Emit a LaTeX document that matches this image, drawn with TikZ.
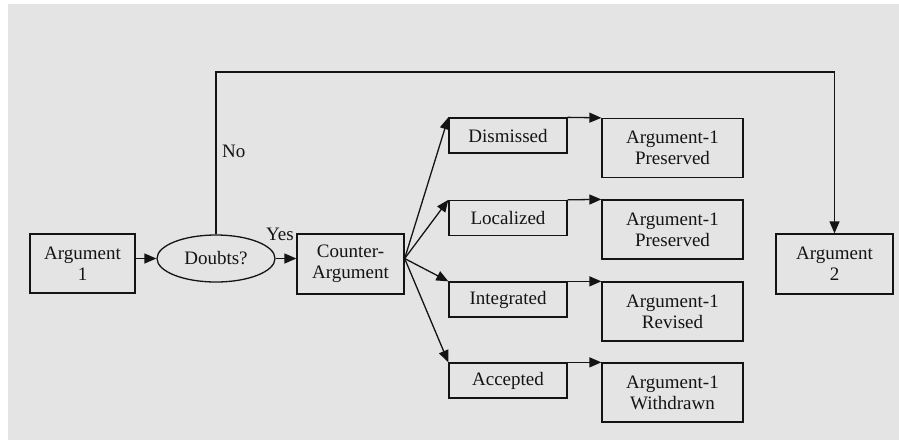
\documentclass[tikz,border=0pt]{standalone}
\usepackage{fontspec}
\setmainfont{Liberation Serif}
\usetikzlibrary{arrows.meta,shapes.geometric,calc}
\definecolor{pagegray}{RGB}{228,228,228}
\definecolor{ink}{RGB}{20,20,20}
\begin{document}
\begin{tikzpicture}[x=1pt,y=-1pt,
  txt/.style={font=\fontsize{19}{21}\selectfont, text=ink},
  box/.style={txt, draw=ink, line width=1.3pt, align=center, inner sep=0pt},
  outcome/.style={box, minimum width=118pt, minimum height=35pt},
  result/.style={box, minimum width=141pt, minimum height=59pt},
  link/.style={draw=ink, line width=1.3pt, -{Triangle[length=12pt,width=10pt]}}]
  % page and background panel
  \useasboundingbox (0,0) rectangle (899,440);
  \fill[white] (0,0) rectangle (899,440);
  \fill[pagegray] (8,4) rectangle (899,440);

  % main chain
  \node[box, minimum width=105pt, minimum height=59pt] (a1) at (82.5,263.5) {Argument\\1};
  \node[txt, draw=ink, line width=1.3pt, ellipse, inner sep=0pt,
        minimum width=118pt, minimum height=47pt] (dq) at (216,258.5) {Doubts?};
  \node[box, minimum width=107pt, minimum height=60pt] (ca) at (350.5,264) {Counter-\\Argument};
  \node[box, minimum width=117pt, minimum height=60pt] (a2) at (834.5,264) {Argument\\2};

  % outcomes of the counter-argument
  \node[outcome] (o1) at (508,135.5) {Dismissed};
  \node[outcome] (o2) at (508,218) {Localized};
  \node[outcome] (o3) at (508,299.5) {Integrated};
  \node[outcome] (o4) at (508,380.5) {Accepted};

  % resulting state of argument 1
  \node[result] (r1) at (672.5,148) {Argument-1\\Preserved};
  \node[result] (r2) at (672.5,229.5) {Argument-1\\Preserved};
  \node[result] (r3) at (672.5,311.5) {Argument-1\\Revised};
  \node[result] (r4) at (672.5,392.5) {Argument-1\\Withdrawn};

  % connectors
  \draw[link] (a1.east |- dq.center) -- (dq.west);
  \draw[link] (dq.east) -- (ca.west |- dq.center);
  \coordinate (fan) at (ca.east |- dq.center);
  \foreach \o in {o1,o2,o3,o4} \draw[link] (fan) -- (\o.north west);
  \foreach \o/\r in {o1/r1,o2/r2,o3/r3,o4/r4} \draw[link] (\o.north east) -- (\r.north west);
  \coordinate (top) at (0,72);
  \draw[link] (dq.north) -- (dq.north |- top) -| (a2.north);

  % branch labels
  \node[txt, anchor=base west, inner sep=0pt] (no) at (222,157) {No};
  \node[txt, anchor=base east, inner sep=0pt] (yes) at (294,240) {Yes};
\end{tikzpicture}
\end{document}
